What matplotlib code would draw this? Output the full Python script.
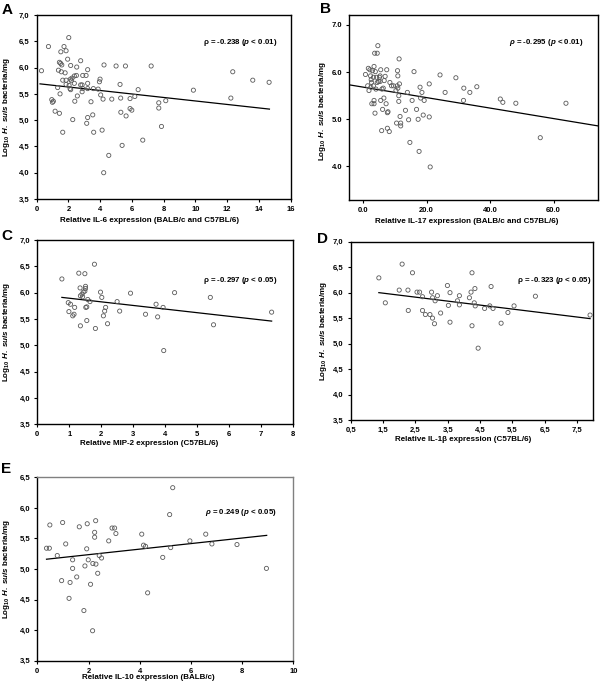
import matplotlib
matplotlib.use("Agg")
import matplotlib.pyplot as plt
import numpy as np

plt.rcParams["font.family"] = ["Liberation Sans", "DejaVu Sans"]
plt.rcParams["font.weight"] = "bold"
plt.rcParams["mathtext.fontset"] = "custom"
plt.rcParams["mathtext.rm"] = "Liberation Sans:bold"
plt.rcParams["mathtext.it"] = "Liberation Sans:italic:bold"
plt.rcParams["mathtext.bf"] = "Liberation Sans:bold"

# ---- panel A: IL-6 (BALB/c and C57BL/6) ----
a_x = [0.30, 0.74, 0.95, 0.99, 1.05, 1.16, 1.32, 1.37, 1.43, 1.43, 1.47, 1.51, 1.52, 1.55,
       1.58, 1.64, 1.64, 1.72, 1.79, 1.85, 1.85, 1.85, 1.95, 2.02, 2.04, 2.10, 2.12, 2.14,
       2.14, 2.18, 2.23, 2.27, 2.37, 2.40, 2.37, 2.50, 2.52, 2.56, 2.77, 2.77, 2.86, 2.86,
       2.90, 2.90, 3.11, 3.15, 3.21, 3.21, 3.21, 3.21, 3.42, 3.53, 3.59, 3.57, 3.87, 3.95,
       3.99, 4.03, 4.12, 4.18, 4.22, 4.24, 4.54, 4.73, 5.00, 5.25, 5.29, 5.30, 5.38, 5.59,
       5.63, 5.88, 5.88, 5.99, 6.18, 6.39, 6.68, 7.21, 7.69, 7.69, 7.86, 8.13, 9.87, 12.23,
       12.35, 13.61, 14.64]
a_y = [5.94, 6.40, 5.39, 5.34, 5.36, 5.17, 5.62, 5.95, 5.13, 6.10, 5.50, 6.08, 6.30, 5.92,
       6.05, 4.77, 5.76, 6.40, 5.90, 6.32, 5.76, 5.68, 6.16, 6.57, 5.66, 5.60, 5.78, 6.04,
       5.58, 5.75, 5.80, 5.01, 5.70, 5.36, 5.84, 5.85, 6.01, 5.46, 6.13, 5.67, 5.67, 5.54,
       5.85, 5.60, 5.85, 4.94, 5.05, 5.70, 5.96, 5.60, 5.35, 5.10, 4.77, 5.60, 5.59, 5.73,
       5.78, 5.48, 4.81, 5.40, 4.00, 6.05, 4.33, 5.40, 6.03, 5.68, 5.42, 5.15, 4.52, 6.03,
       5.08, 5.41, 5.22, 5.19, 5.45, 5.58, 4.62, 6.03, 5.33, 5.23, 4.88, 5.37, 5.57, 5.42,
       5.92, 5.76, 5.72]
a_fit_x = [0.21, 14.66]
a_fit_y = [5.69, 5.21]

# ---- panel B: IL-17 (BALB/c and C57BL/6) ----
b_x = [0.7, 1.4, 1.6, 1.8, 2.1, 2.3, 2.4, 2.5, 2.6, 2.7, 2.9, 3.2, 3.2, 3.4, 3.4, 3.4, 3.6,
       3.7, 3.8, 4.0, 4.2, 4.4, 4.4, 4.6, 4.8, 5.1, 5.3, 5.3, 5.5, 5.5, 5.8, 5.9, 6.1, 6.3,
       6.5, 6.6, 6.9, 7.2, 7.4, 7.6, 7.6, 7.8, 8.2, 8.4, 8.9, 9.5, 10.3, 10.5, 10.7, 10.8,
       10.9, 10.9, 11.2, 11.2, 11.3, 11.4, 11.6, 11.8, 11.8, 13.3, 13.9, 14.3, 14.7, 15.4,
       16.0, 16.8, 17.3, 17.6, 17.9, 18.1, 18.5, 18.9, 19.2, 20.8, 20.8, 21.1, 24.2, 25.8,
       29.2, 31.7, 31.6, 33.6, 35.8, 43.2, 44.0, 48.1, 55.8, 63.9]
b_y = [5.95, 5.71, 6.08, 5.61, 6.05, 5.92, 5.68, 5.84, 5.78, 5.33, 6.03, 5.89, 5.71, 6.12,
       5.40, 5.33, 6.40, 5.13, 6.01, 5.64, 5.89, 6.40, 5.78, 6.56, 5.80, 5.89, 5.92, 5.80,
       6.05, 5.40, 4.76, 5.64, 5.21, 5.66, 5.45, 5.82, 5.91, 5.33, 6.05, 5.14, 4.81, 5.16,
       4.74, 5.78, 5.71, 5.71, 5.61, 4.92, 5.71, 6.03, 5.92, 5.66, 5.50, 5.38, 6.28, 5.75,
       5.06, 4.92, 4.86, 5.19, 5.57, 4.99, 4.51, 5.40, 6.01, 5.21, 5.00, 4.32, 5.68, 5.45,
       5.57, 5.09, 5.40, 5.05, 5.75, 3.99, 5.94, 5.57, 5.88, 5.66, 5.40, 5.57, 5.69, 5.43,
       5.36, 5.34, 4.61, 5.34]
b_fit_x = [-4.4, 74.0]
b_fit_y = [5.73, 4.86]

# ---- panel C: MIP-2 (C57BL/6) ----
c_x = [0.77, 0.97, 0.99, 1.04, 1.11, 1.15, 1.17, 1.30, 1.34, 1.35, 1.35, 1.40, 1.42, 1.44,
       1.49, 1.49, 1.51, 1.51, 1.52, 1.55, 1.55, 1.58, 1.65, 1.79, 1.82, 1.98, 2.02, 2.07,
       2.11, 2.14, 2.20, 2.50, 2.58, 2.92, 3.39, 3.72, 3.77, 3.94, 3.96, 4.30, 5.42, 5.52,
       7.34]
c_y = [6.26, 5.81, 5.64, 5.78, 5.56, 5.59, 5.72, 6.37, 6.09, 5.94, 5.37, 5.97, 5.92, 6.01,
       6.36, 6.03, 6.12, 6.08, 5.72, 5.73, 5.47, 5.87, 5.83, 6.54, 5.32, 6.01, 5.91, 5.56,
       5.65, 5.72, 5.41, 5.83, 5.65, 5.99, 5.59, 5.78, 5.54, 5.72, 4.90, 6.00, 5.91, 5.39,
       5.63]
c_fit_x = [0.77, 7.34]
c_fit_y = [5.91, 5.46]

# ---- panel D: IL-1beta (C57BL/6) ----
d_x = [1.37, 1.57, 2.00, 2.09, 2.27, 2.28, 2.41, 2.55, 2.63, 2.72, 2.72, 2.81, 2.95, 3.00,
       3.03, 3.03, 3.09, 3.11, 3.18, 3.28, 3.49, 3.52, 3.57, 3.57, 3.80, 3.86, 3.86, 4.17,
       4.22, 4.25, 4.25, 4.32, 4.34, 4.35, 4.44, 4.64, 4.80, 4.84, 4.90, 5.15, 5.36, 5.55,
       6.21, 7.90]
d_y = [6.29, 5.80, 6.05, 6.56, 6.05, 5.65, 6.39, 6.01, 6.01, 5.92, 5.65, 5.57, 5.57, 6.01,
       5.90, 5.50, 5.39, 5.84, 5.94, 5.60, 6.14, 5.75, 6.00, 5.42, 5.84, 5.94, 5.76, 5.90,
       6.01, 6.39, 5.35, 5.80, 6.08, 5.74, 4.91, 5.69, 5.74, 6.12, 5.69, 5.40, 5.61, 5.74,
       5.93, 5.56]
d_fit_x = [1.37, 7.90]
d_fit_y = [6.00, 5.49]

# ---- panel E: IL-10 (BALB/c) ----
e_x = [0.36, 0.47, 0.49, 0.78, 0.95, 0.99, 1.11, 1.24, 1.28, 1.38, 1.38, 1.54, 1.64, 1.82,
       1.86, 1.95, 1.93, 1.99, 2.08, 2.16, 2.17, 2.28, 2.24, 2.24, 2.29, 2.36, 2.42, 2.51,
       2.79, 2.92, 3.02, 3.07, 4.08, 4.15, 4.23, 4.31, 4.90, 5.17, 5.21, 5.29, 5.96, 6.58,
       6.82, 7.80, 8.95]
e_y = [5.34, 5.34, 5.72, 5.22, 4.81, 5.76, 5.41, 4.52, 4.78, 5.01, 5.15, 4.87, 5.69, 4.32,
       5.05, 5.74, 5.33, 5.15, 4.75, 3.99, 5.09, 5.79, 5.60, 5.52, 5.08, 4.93, 5.22, 5.18,
       5.46, 5.67, 5.67, 5.58, 5.57, 5.39, 5.37, 4.61, 5.19, 5.89, 5.35, 6.33, 5.46, 5.57,
       5.41, 5.40, 5.01]
e_fit_x = [0.36, 8.96]
e_fit_y = [5.16, 5.55]

YLABEL = r"Log$_{10}$ $\mathit{H.\ suis}$ bacteria/mg"
COMMA_Y = ["3,5", "4,0", "4,5", "5,0", "5,5", "6,0", "6,5", "7,0"]

panels = [
    dict(letter="A", x=a_x, y=a_y, fx=a_fit_x, fy=a_fit_y,
         rect=(36.7, 15, 290.7, 199), xlim=(0, 16), ylim=(3.5, 7.0),
         xticks=[0, 2, 4, 6, 8, 10, 12, 14, 16],
         xticklabels=["0", "2", "4", "6", "8", "10", "12", "14", "16"],
         yticks=[3.5, 4.0, 4.5, 5.0, 5.5, 6.0, 6.5, 7.0], yticklabels=COMMA_Y,
         xlabel="Relative IL-6 expression (BALB/c and C57BL/6)",
         stat=r"ρ = -0.238 ($\mathit{p}$ < 0.01)", stat_pos=(0.946, 0.849),
         xlab_pos=(0.446, -0.098), ylab_pos=(-0.098, 0.5), letter_pos=(2, 14), frame="k"),
    dict(letter="B", x=b_x, y=b_y, fx=b_fit_x, fy=b_fit_y,
         rect=(349.3, 15, 598, 200), xlim=(-4.4, 74.0), ylim=(3.29, 7.21),
         xticks=[0, 20, 40, 60], xticklabels=["0.0", "20.0", "40.0", "60.0"],
         yticks=[4.0, 5.0, 6.0, 7.0], yticklabels=["4.0", "5.0", "6.0", "7.0"],
         xlabel="Relative IL-17 expression (BALB/c and C57BL/6)",
         stat=r"$\mathit{ρ}$ = -0.295 ($\mathit{p}$ < 0.01)", stat_pos=(0.94, 0.85),
         xlab_pos=(0.472, -0.095), ylab_pos=(-0.085, 0.48), letter_pos=(320, 13), frame="k"),
    dict(letter="C", x=c_x, y=c_y, fx=c_fit_x, fy=c_fit_y,
         rect=(37.3, 240, 292.7, 424.3), xlim=(0, 8), ylim=(3.5, 7.0),
         xticks=list(range(9)), xticklabels=[str(i) for i in range(9)],
         yticks=[3.5, 4.0, 4.5, 5.0, 5.5, 6.0, 6.5, 7.0], yticklabels=COMMA_Y,
         xlabel="Relative MIP-2 expression (C57BL/6)",
         stat=r"ρ = -0.297 ($\mathit{p}$ < 0.05)", stat_pos=(0.939, 0.779),
         xlab_pos=(0.437, -0.085), ylab_pos=(-0.098, 0.5), letter_pos=(1, 240), frame="k"),
    dict(letter="D", x=d_x, y=d_y, fx=d_fit_x, fy=d_fit_y,
         rect=(350.7, 241.7, 593.3, 420), xlim=(0.5, 8.0), ylim=(3.5, 7.0),
         xticks=[0.5, 1.5, 2.5, 3.5, 4.5, 5.5, 6.5, 7.5],
         xticklabels=["0,5", "1,5", "2,5", "3,5", "4,5", "5,5", "6,5", "7,5"],
         yticks=[3.5, 4.0, 4.5, 5.0, 5.5, 6.0, 6.5, 7.0], yticklabels=COMMA_Y,
         xlabel="Relative IL-1β expression (C57BL/6)",
         stat=r"ρ = -0.323 ($\mathit{p}$ < 0.05)", stat_pos=(0.99, 0.78),
         xlab_pos=(0.463, -0.09), ylab_pos=(-0.09, 0.5), letter_pos=(317, 243), frame="k"),
    dict(letter="E", x=e_x, y=e_y, fx=e_fit_x, fy=e_fit_y,
         rect=(37.3, 477.3, 293.3, 660.7), xlim=(0, 10), ylim=(3.5, 6.5),
         xticks=[0, 2, 4, 6, 8, 10], xticklabels=["0", "2", "4", "6", "8", "10"],
         yticks=[3.5, 4.0, 4.5, 5.0, 5.5, 6.0, 6.5], yticklabels=COMMA_Y[:7],
         xlabel="Relative IL-10 expression (BALB/c)",
         stat=r"$\mathit{ρ}$ = 0.249 ($\mathit{p}$ < 0.05)", stat_pos=(0.936, 0.807),
         xlab_pos=(0.432, -0.075), ylab_pos=(-0.098, 0.5), letter_pos=(1, 473), frame="0.5"),
]

W, H = 600, 691
fig = plt.figure(figsize=(6.0, 6.91), dpi=100)

for p in panels:
    x0, y0, x1, y1 = p["rect"]
    ax = fig.add_axes([x0 / W, 1 - y1 / H, (x1 - x0) / W, (y1 - y0) / H])
    ax.scatter(p["x"], p["y"], s=9, facecolors="none", edgecolors="0.35",
               linewidths=0.6, zorder=3)
    ax.plot(p["fx"], p["fy"], color="k", lw=0.9, zorder=2)
    ax.set_xlim(*p["xlim"])
    ax.set_ylim(*p["ylim"])
    ax.set_xticks(p["xticks"])
    ax.set_xticklabels(p["xticklabels"])
    ax.set_yticks(p["yticks"])
    ax.set_yticklabels(p["yticklabels"])
    ax.tick_params(direction="out", length=2.5, width=0.8, labelsize=5.5, pad=2.5)
    for side in ["left", "bottom"]:
        ax.spines[side].set_linewidth(1.0)
        ax.spines[side].set_color("k")
    for side in ["top", "right"]:
        ax.spines[side].set_linewidth(1.0)
        ax.spines[side].set_color(p["frame"])
    ax.set_xlabel(p["xlabel"], fontsize=5.8, fontweight="bold")
    ax.set_ylabel(YLABEL, fontsize=5.8, fontweight="bold")
    ax.xaxis.set_label_coords(*p["xlab_pos"])
    ax.yaxis.set_label_coords(*p["ylab_pos"])
    ax.text(p["stat_pos"][0], p["stat_pos"][1], p["stat"], transform=ax.transAxes,
            ha="right", va="center", fontsize=5.7, fontweight="bold")
    fig.text(p["letter_pos"][0] / W, 1 - p["letter_pos"][1] / H, p["letter"],
             fontsize=11, fontweight="bold", ha="left", va="baseline")

fig.savefig("out.png", dpi=100)
